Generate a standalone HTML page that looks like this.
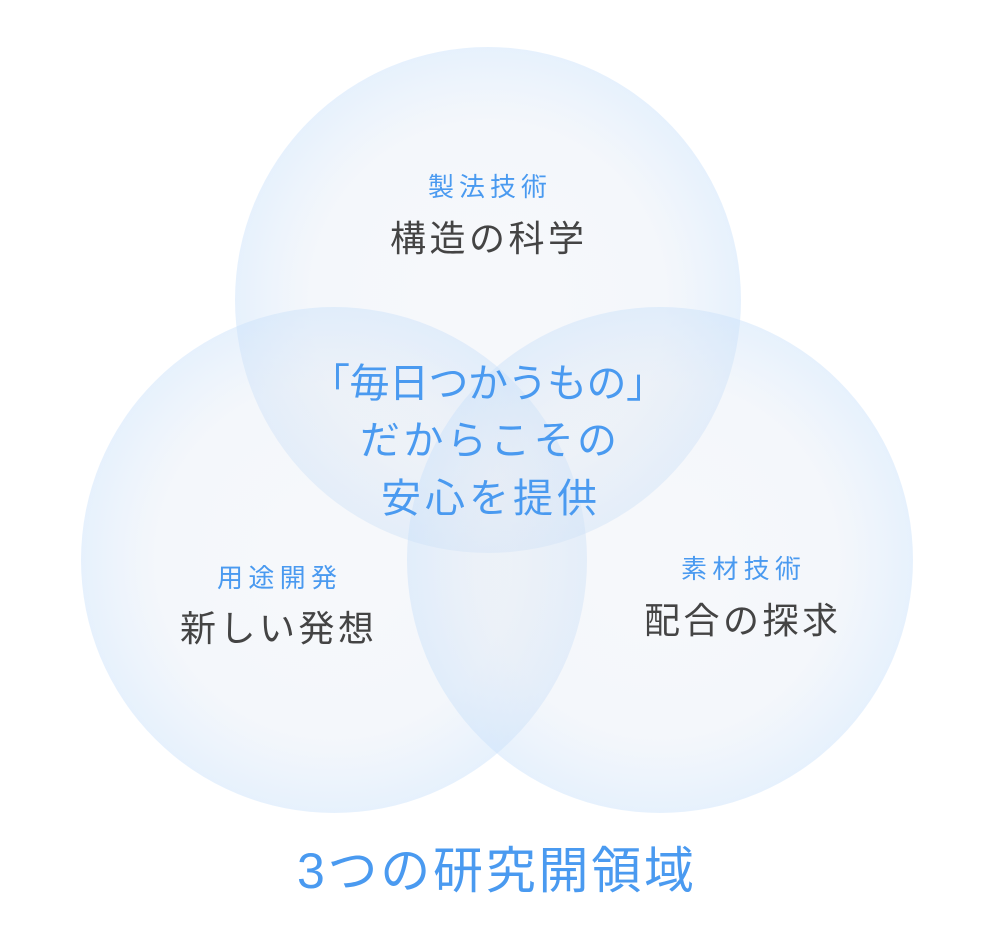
<!DOCTYPE html>
<html><head><meta charset="utf-8"><style>
html,body{margin:0;padding:0;background:#fff;}
svg{display:block;}
text{font-family:"Liberation Sans","Noto Sans CJK JP",sans-serif;}
</style></head><body>
<svg width="994" height="950" viewBox="0 0 994 950" xmlns="http://www.w3.org/2000/svg">
<defs>
<radialGradient id="g" cx="50%" cy="50%" r="50%">
<stop offset="0%" stop-color="rgb(225,230,240)" stop-opacity="0.28"/>
<stop offset="70%" stop-color="rgb(218,228,242)" stop-opacity="0.3"/>
<stop offset="100%" stop-color="rgb(200,224,250)" stop-opacity="0.45"/>
</radialGradient>
</defs>
<circle cx="488" cy="300" r="253" fill="url(#g)"/>
<circle cx="334" cy="560" r="253" fill="url(#g)"/>
<circle cx="660" cy="560" r="253" fill="url(#g)"/>
<g fill="#4a9af0">
<text x="428" y="196" font-size="26" textLength="119" lengthAdjust="spacing">製法技術</text>
<text x="217" y="587" font-size="26" textLength="120" lengthAdjust="spacing">用途開発</text>
<text x="681" y="578" font-size="26" textLength="120" lengthAdjust="spacing">素材技術</text>
<text x="310" y="397" font-size="40" textLength="356" lengthAdjust="spacing">「毎日つかうもの」</text>
<text x="360" y="454" font-size="40" textLength="257" lengthAdjust="spacing">だからこその</text>
<text x="381" y="512" font-size="40" textLength="216" lengthAdjust="spacing">安心を提供</text>
<text x="297" y="888" font-size="50" textLength="397" lengthAdjust="spacing">3つの研究開領域</text>
</g>
<g fill="#444">
<text x="390" y="251" font-size="36" textLength="194" lengthAdjust="spacing">構造の科学</text>
<text x="180" y="641" font-size="36" textLength="194" lengthAdjust="spacing">新しい発想</text>
<text x="644" y="633" font-size="36" textLength="194" lengthAdjust="spacing">配合の探求</text>
</g>
</svg>
</body></html>
